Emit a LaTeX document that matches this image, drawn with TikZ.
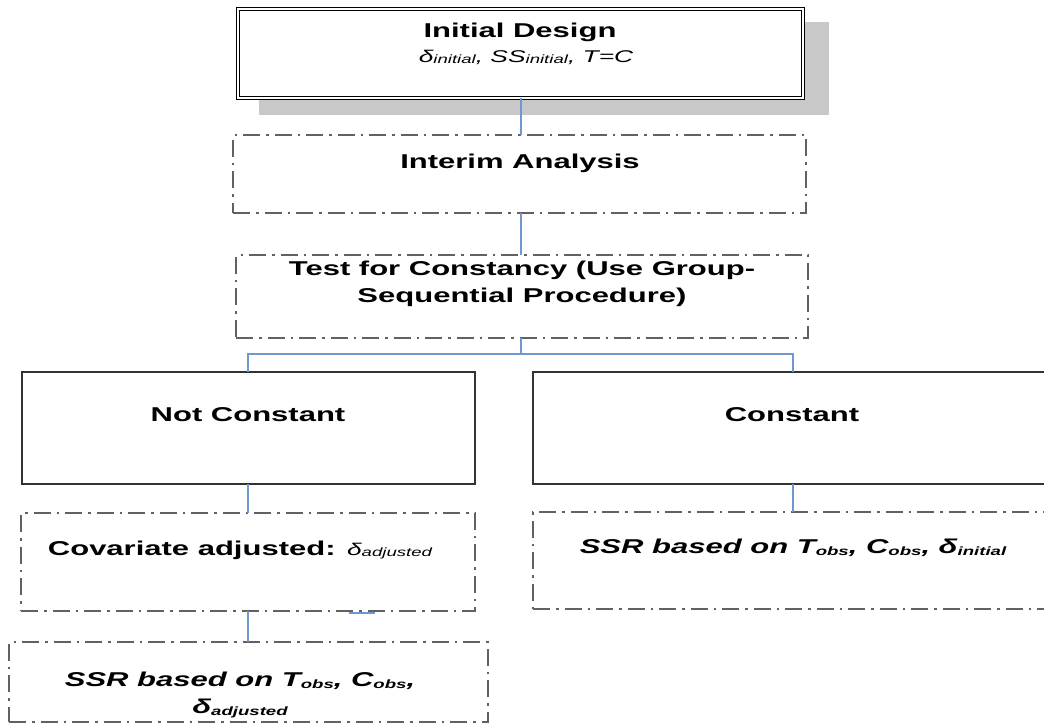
\documentclass[tikz,border=0pt]{standalone}
\usepackage{fontspec}
\setmainfont{Liberation Sans}
\usepackage{graphicx}
\newcommand\wide[1]{\scalebox{1.55}[1]{#1}}
\newcommand\lowtxt[1]{\raisebox{-0.15ex}{\fontsize{12}{12}\selectfont #1}}
\definecolor{connblue}{HTML}{6F97D0}
\definecolor{shadowgray}{HTML}{C8C8C8}
\begin{document}
\begin{tikzpicture}[x=1pt,y=-1pt,
  box/.style={draw=black!80, line width=1.4pt, anchor=north west, inner sep=0pt, outer sep=0pt},
  dbox/.style={box, draw=black!62, line width=1.3pt, dash pattern=on 17pt off 6pt on 2.5pt off 6pt},
  conn/.style={draw=connblue, line width=2pt},
  txt/.style={inner sep=0pt, font=\fontsize{20}{27}\selectfont\bfseries},
  sub/.style={inner sep=0pt, font=\fontsize{17}{22}\selectfont\itshape}
]
\useasboundingbox (0,0) rectangle (1044,725);
\clip (0,0) rectangle (1044,725);
\fill[white] (0,0) rectangle (1044,725);

% shadow of the top box
\fill[shadowgray] (259,22) rectangle (829,115);

% boxes
\node[box, draw=black, fill=white, line width=0.9pt, double=white, double distance=1.8pt,
      minimum width=565pt, minimum height=89pt] (top) at (238,9) {};
\node[dbox, minimum width=573pt, minimum height=78pt] (interim) at (233,135) {};
\node[dbox, minimum width=572pt, minimum height=83pt] (test) at (236,255) {};
\node[box, minimum width=453pt, minimum height=112pt] (nc) at (22,372) {};
\node[box, minimum width=530pt, minimum height=112pt] (cn) at (533,372) {};
\node[dbox, minimum width=454pt, minimum height=98pt] (cov) at (21,513) {};
\node[dbox, minimum width=530pt, minimum height=97pt] (ssrr) at (533,512) {};
\node[dbox, minimum width=479pt, minimum height=80pt] (ssrl) at (9,642) {};

% texts
\node[txt] (tInit) at (520,32) {\wide{Initial Design}};
\node[sub] (tInit2) at (526,57) {\wide{δ\lowtxt{initial}, SS\lowtxt{initial}, T=C}};
\node[txt] (tInterim) at (520,163) {\wide{Interim Analysis}};
\node[txt] (tTest) at (522,284) {\wide{\begin{tabular}{@{}c@{}}Test for Constancy (Use Group-\\Sequential Procedure)\end{tabular}}};
\node[txt] (tNC) at (248,415) {\wide{Not Constant}};
\node[txt] (tCN) at (792,415) {\wide{Constant}};
\node[txt] (tCov) at (240,550) {\wide{Covariate adjusted: {\mdseries\itshape\fontsize{17}{17}\selectfont δ\lowtxt{adjusted}}}};
\node[txt, font=\fontsize{20}{27}\selectfont\bfseries\itshape] (tSSRr) at (793,548) {\wide{SSR based on T\lowtxt{obs}, C\lowtxt{obs}, δ\lowtxt{initial}}};
\node[txt, font=\fontsize{20}{27}\selectfont\bfseries\itshape] (tSSRl) at (240,695) {\wide{\begin{tabular}{@{}c@{}}SSR based on T\lowtxt{obs}, C\lowtxt{obs},\\δ\lowtxt{adjusted}\end{tabular}}};

% connectors
\coordinate (mid) at (521,354);
\coordinate (lx) at (248,0);
\coordinate (rx) at (793,0);
\draw[conn] (top.south -| mid) -- (interim.north -| mid);
\draw[conn] (interim.south -| mid) -- (test.north -| mid);
\draw[conn] (test.south -| mid) -- (mid);
\draw[conn] (nc.north -| lx) |- (mid) -| (cn.north -| rx);
\draw[conn] (nc.south -| lx) -- (cov.north -| lx);
\draw[conn] (cov.south -| lx) -- (ssrl.north -| lx);
\draw[conn] (cn.south -| rx) -- (ssrr.north -| rx);
\coordinate (s1) at (349,613);
\coordinate (s2) at (375,613);
\draw[conn] (s1) -- (s2);
\end{tikzpicture}
\end{document}
